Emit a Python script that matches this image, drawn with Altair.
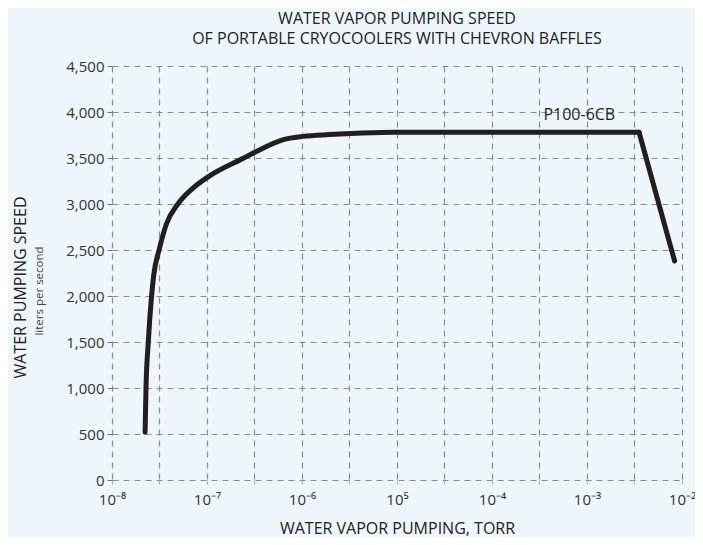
import json
import altair as alt
import pandas as pd

# Curve (pressure in torr, speed in liters/second)
pressure_torr = [2.23e-8, 2.28e-8, 2.41e-8, 2.61e-8, 2.76e-8, 3.13e-8, 3.73e-8,
                 4.94e-8, 7.08e-8, 1.01e-7, 2.44e-7, 3.23e-7, 6.37e-7, 1.03e-6,
                 1.93e-6, 4.34e-6, 9.60e-6, 3.53e-3, 8.36e-3]
speed_lps = [520, 1000, 1500, 2000, 2240, 2500, 2780,
             3000, 3170, 3290, 3500, 3565, 3700, 3735,
             3755, 3772, 3780, 3780, 2380]
# the rising curve is smooth, the final drop after the knee is straight
segment = ["curve"] * 18 + ["drop"]

series_label = ["P100-6CB"]
label_x = [8.3e-4]
label_y = [3965]

x_grid = [1e-8, 3.16e-8, 1e-7, 3.16e-7, 1e-6, 3.16e-6, 1e-5, 3.16e-5,
          1e-4, 3.16e-4, 1e-3, 3.16e-3, 1e-2]
x_major_exps = [-8, -7, -6, -5, -4, -3, -2]
x_major_labels = ["10⁻⁸", "10⁻⁷", "10⁻⁶", "10⁵", "10⁻⁴", "10⁻³", "10⁻²"]
y_ticks = [0, 500, 1000, 1500, 2000, 2500, 3000, 3500, 4000, 4500]

FONT = "Open Sans"
BG = "#eef5fb"
GRID = "#8c8c8c"
INK = "#231f20"

label_expr = (
    f"{json.dumps(x_major_labels, ensure_ascii=False)}"
    f"[indexof({json.dumps(x_major_exps)}, round(log(datum.value)/LN10*2)/2)] || ''"
)

df = pd.DataFrame({"p": pressure_torr, "s": speed_lps, "seg": segment})
# the drop segment starts at the knee point
knee = df.iloc[[17]].copy()
knee["seg"] = "drop"
df_curve = df[df.seg == "curve"]
df_drop = pd.concat([knee, df[df.seg == "drop"]])

lab = pd.DataFrame({"p": label_x, "s": label_y, "t": series_label})
sub = pd.DataFrame({"t": ["liters per second"]})

W, H = 570, 414

xscale = alt.Scale(type="log", domain=[1e-8, 1e-2], nice=False)
yscale = alt.Scale(domain=[0, 4500], nice=False)

xaxis = alt.Axis(
    values=x_grid, labelExpr=label_expr, title="WATER VAPOR PUMPING, TORR",
    grid=True, gridDash=[6, 5], gridColor=GRID, gridWidth=1.2,
    domain=False, tickSize=4, tickColor="#aaaaaa", tickWidth=1,
    labelFontSize=15, labelColor="#333333", labelFont=FONT, labelPadding=8,
    labelFlush=False, labelOverlap=False,
    titleFontSize=16, titleFont=FONT, titleFontWeight="normal", titleColor="#222222",
    titleY=48, titleBaseline="middle",
)
yaxis = alt.Axis(
    values=y_ticks, labelExpr="format(datum.value, ',d')", title="WATER PUMPING SPEED",
    grid=True, gridDash=[6, 5], gridColor=GRID, gridWidth=1.2,
    domain=False, tickSize=5, tickColor="#777777", tickWidth=1,
    labelFontSize=15, labelColor="#333333", labelFont=FONT, labelPadding=3,
    titleFontSize=16, titleFont=FONT, titleFontWeight="normal", titleColor="#222222",
    titleAngle=270, titleX=-92, titleY=221, titleAlign="center", titleBaseline="middle",
)

enc = dict(
    x=alt.X("p:Q", scale=xscale, axis=xaxis),
    y=alt.Y("s:Q", scale=yscale, axis=yaxis),
)

curve = alt.Chart(df_curve).mark_line(
    color=INK, strokeWidth=5, strokeCap="round", strokeJoin="round",
    interpolate="monotone"
).encode(**enc)

drop = alt.Chart(df_drop).mark_line(
    color=INK, strokeWidth=5, strokeCap="round", strokeJoin="round",
    interpolate="linear"
).encode(**enc)

text = alt.Chart(lab).mark_text(
    font=FONT, fontSize=16, fontWeight=500, color=INK, align="center", baseline="middle"
).encode(text="t:N", **enc)

subtitle = alt.Chart(sub).mark_text(
    font=FONT, fontSize=11.5, color="#444444", angle=270, align="center", baseline="middle"
).encode(x=alt.value(-72), y=alt.value(225), text="t:N")

chart = alt.layer(curve, drop, text, subtitle).properties(
    width=W, height=H,
    title=alt.TitleParams(
        ["WATER VAPOR PUMPING SPEED", "OF PORTABLE CRYOCOOLERS WITH CHEVRON BAFFLES"],
        font=FONT, fontSize=16, fontWeight="normal", color="#222222",
        anchor="middle", lineHeight=20, offset=12,
    ),
    background=BG,
    autosize=alt.AutoSizeParams(type="none"),
    padding={"left": 104, "top": 58, "right": 13, "bottom": 57},
).configure_view(stroke=None)

chart.save("out.html", embed_options={"renderer": "svg", "actions": False})
